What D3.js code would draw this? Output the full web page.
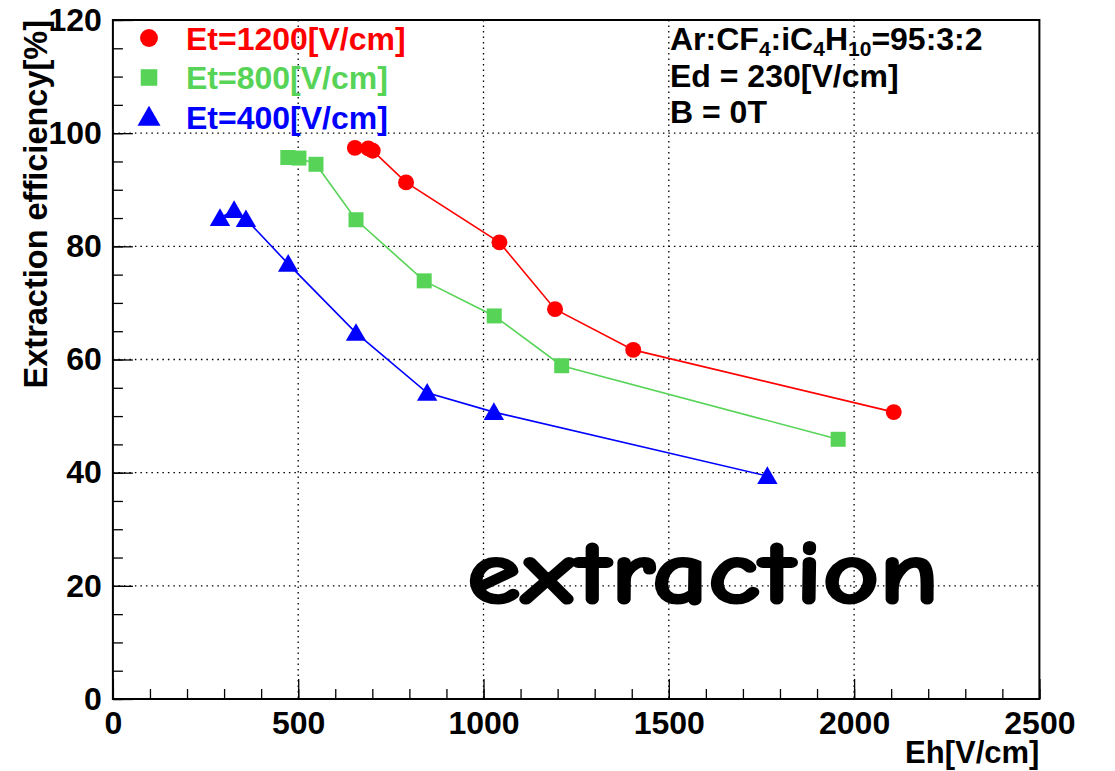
<!DOCTYPE html>
<html>
<head>
<meta charset="utf-8">
<script src="https://cdn.jsdelivr.net/npm/d3@7"></script>
<style>
body{margin:0;background:#fff;}
text{font-family:"Liberation Sans",Arial,Helvetica,sans-serif;font-weight:bold;}
</style>
</head>
<body>
<svg id="svg" width="1115" height="771"></svg>
<script>
// series: Eh [V/cm] vs extraction efficiency [%]
var et1200X=[653,689,701,791,1043,1193,1404,2107];
var et1200Y=[97.4,97.3,96.9,91.3,80.7,68.9,61.7,50.7];
var et800X=[472,502,548,656,840,1029,1211,1957];
var et800Y=[95.7,95.6,94.5,84.7,73.9,67.7,58.9,45.9];
var et400X=[289,327,359,473,656,848,1028,1766];
var et400Y=[85.0,86.4,84.8,76.9,64.7,54.1,50.7,39.4];

var seriesNames=["Et=1200[V/cm]","Et=800[V/cm]","Et=400[V/cm]"];
var seriesColors=["#ff0000","#57d457","#0000ff"];
var xTicks=[0,500,1000,1500,2000,2500];
var yTicks=[0,20,40,60,80,100,120];

var mLeft=112.9, mTop=20;
var width=926.5, height=679;

var svg=d3.select("#svg").append("g")
        .attr("transform","translate("+mLeft+","+mTop+")");

var x=d3.scaleLinear().domain([0,2500]).range([0,width]);
var y=d3.scaleLinear().domain([0,120]).range([height,0]);

// dotted grid
svg.append("g").selectAll("line").data(xTicks.slice(1,-1)).enter().append("line")
    .attr("x1",d=>x(d)).attr("x2",d=>x(d)).attr("y1",0).attr("y2",height)
    .attr("stroke","#000").attr("stroke-width",1.3).attr("stroke-dasharray","1.5,4");
svg.append("g").selectAll("line").data(yTicks.slice(1,-1)).enter().append("line")
    .attr("y1",d=>y(d)).attr("y2",d=>y(d)).attr("x1",0).attr("x2",width)
    .attr("stroke","#000").attr("stroke-width",1.3).attr("stroke-dasharray","1.5,4");

// minor ticks
svg.append("g").attr("transform","translate(0,"+height+")")
    .call(d3.axisBottom(x).tickValues(d3.range(0,2501,100)).tickSize(-10).tickFormat(""))
    .call(g=>g.select(".domain").remove());
svg.append("g")
    .call(d3.axisLeft(y).tickValues(d3.range(0,121,5)).tickSize(-10).tickFormat(""))
    .call(g=>g.select(".domain").remove());

// major ticks + labels
var xAxis=svg.append("g").attr("transform","translate(0,"+height+")")
    .call(d3.axisBottom(x).tickValues(xTicks).tickSize(-20).tickPadding(12).tickFormat(d3.format("d")));
var yAxis=svg.append("g")
    .call(d3.axisLeft(y).tickValues(yTicks).tickSize(-20).tickPadding(11).tickFormat(d3.format("d")));
[xAxis,yAxis].forEach(a=>{
    a.select(".domain").remove();
    a.selectAll(".tick text").style("font-family","Liberation Sans, Arial, sans-serif")
        .style("font-weight","bold").style("font-size","32px").attr("fill","#000");
});
svg.selectAll(".tick line").attr("stroke","#000").attr("stroke-width",1.3);

// frame
svg.append("rect").attr("width",width).attr("height",height)
    .attr("fill","none").attr("stroke","#000").attr("stroke-width",2);

// axis titles
svg.append("text").attr("x",width).attr("y",height+64)
    .attr("text-anchor","end").style("font-size","31px").text("Eh[V/cm]");
svg.append("text").attr("transform","translate("+(47-mLeft)+",0) rotate(-90)")
    .attr("text-anchor","end").style("font-size","32.5px").text("Extraction efficiency[%]");

// series
var seriesX=[et1200X,et800X,et400X];
var seriesY=[et1200Y,et800Y,et400Y];
var symbols=[d3.symbolCircle,d3.symbolSquare,d3.symbolTriangle];
var symSizes=[200,225,180];
var line=d3.line().x(d=>x(d[0])).y(d=>y(d[1]));

seriesX.forEach((xs,i)=>{
    var pts=xs.map((v,j)=>[v,seriesY[i][j]]);
    svg.append("path").datum(pts).attr("d",line)
        .attr("fill","none").attr("stroke",seriesColors[i]).attr("stroke-width",1.6);
    svg.append("g").selectAll("path").data(pts).enter().append("path")
        .attr("transform",d=>"translate("+x(d[0])+","+(y(d[1])+(i==2?2:0))+")")
        .attr("d",d3.symbol().type(symbols[i]).size(symSizes[i]))
        .attr("fill",seriesColors[i]);
});

// legend
var legend=svg.append("g");
seriesNames.forEach((name,i)=>{
    var ly=18+i*39.5;
    legend.append("path").attr("transform","translate("+(149-mLeft)+","+(ly+(i==2?2:0))+")")
        .attr("d",d3.symbol().type(symbols[i]).size(symSizes[i]+50)).attr("fill",seriesColors[i]);
    legend.append("text").attr("x",186-mLeft).attr("y",ly+11.5)
        .style("font-size","32px").attr("fill",seriesColors[i]).text(name);
});

// conditions
var info=svg.append("g").attr("transform","translate("+(670-mLeft)+",0)");
var t1=info.append("text").attr("y",30).style("font-size","32px");
t1.append("tspan").text("Ar:CF");
t1.append("tspan").attr("dy",6).style("font-size","21px").text("4");
t1.append("tspan").attr("dy",-6).text(":iC");
t1.append("tspan").attr("dy",6).style("font-size","21px").text("4");
t1.append("tspan").attr("dy",-6).text("H");
t1.append("tspan").attr("dy",6).style("font-size","21px").text("10");
t1.append("tspan").attr("dy",-6).text("=95:3:2");
info.append("text").attr("y",67).style("font-size","32px").text("Ed = 230[V/cm]");
info.append("text").attr("y",103).style("font-size","32px").text("B = 0T");

// big annotation
svg.append("text").attr("x",467-mLeft).attr("y",603-mTop)
    .attr("textLength",472).attr("lengthAdjust","spacingAndGlyphs")
    .attr("stroke","#000").attr("stroke-width",2.2).attr("stroke-linejoin","round")
    .style("font-family","'Comic Sans MS','Comic Neue','DejaVu Sans',sans-serif")
    .style("font-size","90px").style("font-weight","bold").text("extraction");
</script>
</body>
</html>
